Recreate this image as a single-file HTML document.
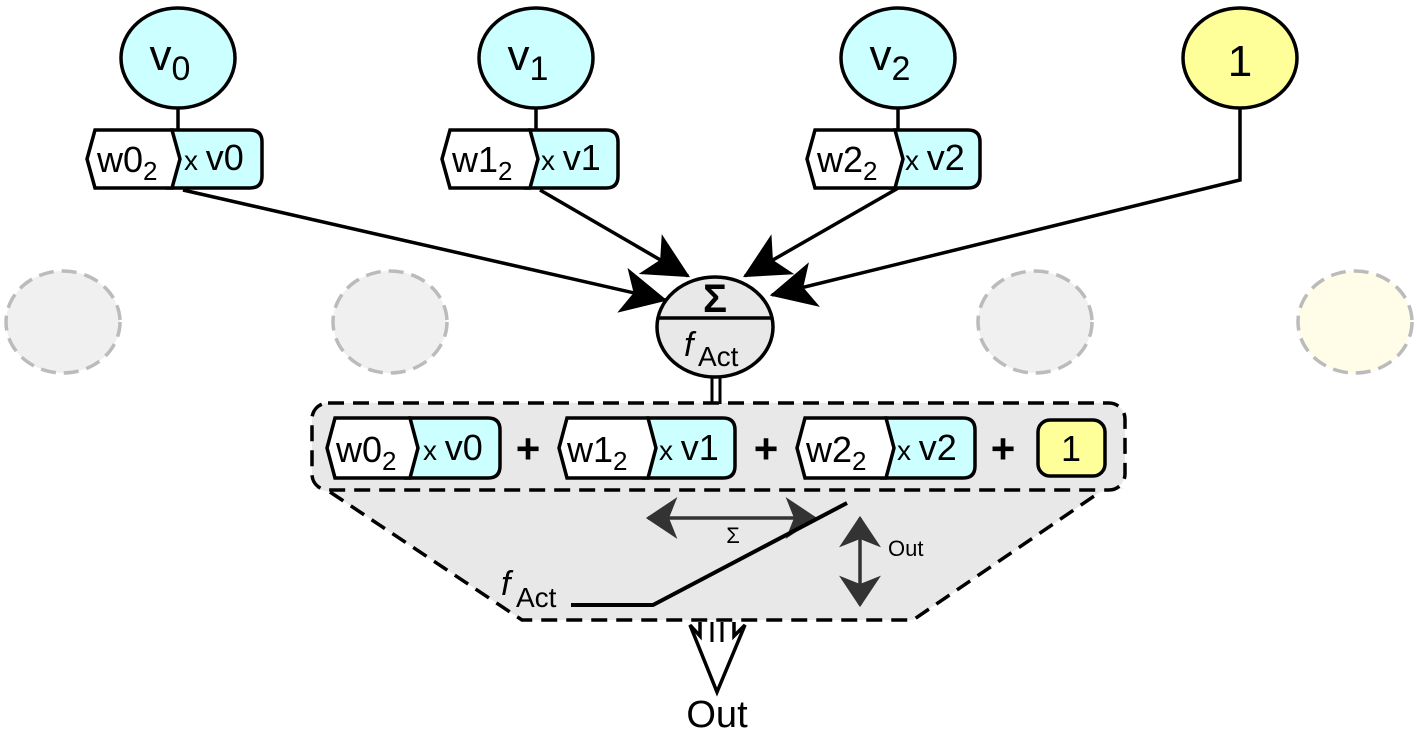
<!DOCTYPE html>
<html><head><meta charset="utf-8"><style>body{margin:0;background:#fff}svg{display:block}text{font-family:"Liberation Sans",sans-serif}</style></head><body>
<svg width="1417" height="732" viewBox="0 0 1417 732" xmlns="http://www.w3.org/2000/svg">
<defs>
<marker id="big" viewBox="0 0 40 40" refX="38" refY="20" markerWidth="46" markerHeight="46" markerUnits="userSpaceOnUse" orient="auto"><path d="M0,0 L40,20 L0,40 L10,20Z" fill="#000"/></marker>
<marker id="dg" viewBox="0 0 30 40" refX="28" refY="20" markerWidth="32" markerHeight="42" markerUnits="userSpaceOnUse" orient="auto"><path d="M0,0 L30,20 L0,40 L8,20Z" fill="#333"/></marker>
<marker id="dgs" viewBox="0 0 30 40" refX="2" refY="20" markerWidth="32" markerHeight="42" markerUnits="userSpaceOnUse" orient="auto"><path d="M30,0 L0,20 L30,40 L22,20Z" fill="#333"/></marker>
</defs>
<g fill="#f0f0f0" stroke="#bbb" stroke-width="3.5" stroke-dasharray="15,8">
<ellipse cx="63" cy="322" rx="57" ry="51"/><ellipse cx="390" cy="322" rx="57" ry="51"/><ellipse cx="1035" cy="322" rx="57" ry="51"/><ellipse cx="1355" cy="322" rx="57" ry="51" fill="#fffde8"/>
</g>
<g stroke="#000" stroke-width="3.5">
<line x1="178" y1="108" x2="178" y2="130"/><line x1="536" y1="108" x2="536" y2="130"/><line x1="898" y1="108" x2="898" y2="130"/>
<ellipse cx="178" cy="58" rx="57" ry="50" fill="#ccffff"/><ellipse cx="536" cy="58" rx="57" ry="50" fill="#ccffff"/><ellipse cx="898" cy="58" rx="57" ry="50" fill="#ccffff"/><ellipse cx="1240" cy="58" rx="57" ry="50" fill="#ffff99"/>
</g>
<g font-size="44" text-anchor="middle"><text x="170" y="70">v<tspan font-size="34" dy="10">0</tspan></text><text x="528" y="70">v<tspan font-size="34" dy="10">1</tspan></text><text x="890" y="70">v<tspan font-size="34" dy="10">2</tspan></text><text x="1240" y="76">1</text></g>
<g stroke="#000" stroke-width="3.5" fill="none">
<line x1="183" y1="190" x2="665" y2="300" marker-end="url(#big)"/>
<line x1="540" y1="190" x2="688" y2="276" marker-end="url(#big)"/>
<line x1="900" y1="187" x2="745" y2="276" marker-end="url(#big)"/>
<polyline points="1240,108 1240,180 772,295" marker-end="url(#big)"/>
</g>
<g stroke="#000" stroke-width="3.5">
<path d="M172,130 L250,130 Q262,130 262,142 L262,176 Q262,188 250,188 L168,188 L176,159Z" fill="#ccffff"/>
<path d="M95,130 L172,130 L180,159 L172,188 L95,188 L87,159Z" fill="#fff"/>
<path d="M530,130 L606,130 Q618,130 618,142 L618,176 Q618,188 606,188 L526,188 L534,159Z" fill="#ccffff"/>
<path d="M450,130 L530,130 L538,159 L530,188 L450,188 L442,159Z" fill="#fff"/>
<path d="M895,130 L968,130 Q980,130 980,142 L980,176 Q980,188 968,188 L891,188 L899,159Z" fill="#ccffff"/>
<path d="M815,130 L895,130 L903,159 L895,188 L815,188 L807,159Z" fill="#fff"/>
</g>
<g font-size="36"><text x="97" y="172">w<tspan>0</tspan><tspan font-size="26" dy="8">2</tspan></text><text x="184" y="170" font-size="28">x <tspan font-size="36">v0</tspan></text>
<text x="452" y="172">w<tspan>1</tspan><tspan font-size="26" dy="8">2</tspan></text><text x="541" y="170" font-size="28">x <tspan font-size="36">v1</tspan></text>
<text x="817" y="172">w<tspan>2</tspan><tspan font-size="26" dy="8">2</tspan></text><text x="905" y="170" font-size="28">x <tspan font-size="36">v2</tspan></text></g>
<path d="M312,488 L1125,488 L1100,492 L913,620 L522,620 L330,492Z" fill="#e8e8e8"/>
<path d="M330,492 L522,620 L913,620 L1100,492" fill="none" stroke="#000" stroke-width="3.5" stroke-dasharray="16,9"/>
<rect x="312" y="403" width="813" height="87" rx="16" fill="#e8e8e8" stroke="#000" stroke-width="3.5" stroke-dasharray="16,9"/>
<line x1="712" y1="376" x2="712" y2="404" stroke="#000" stroke-width="3"/><line x1="720" y1="376" x2="720" y2="404" stroke="#000" stroke-width="3"/>
<ellipse cx="715" cy="327" rx="58" ry="50" fill="#e8e8e8" stroke="#000" stroke-width="3.5"/>
<line x1="657" y1="318" x2="773" y2="318" stroke="#000" stroke-width="3.5"/>
<text x="715" y="312" font-size="40" font-weight="bold" text-anchor="middle">Σ</text>
<text x="684" y="356" font-size="34" font-style="italic" font-family="Liberation Serif">f</text><text x="698" y="366" font-size="28">Act</text>
<g stroke="#000" stroke-width="3.5">
<path d="M410,418 L488,418 Q500,418 500,430 L500,466 Q500,478 488,478 L406,478 L414,448Z" fill="#ccffff"/>
<path d="M335,418 L410,418 L418,448 L410,478 L335,478 L327,448Z" fill="#fff"/>
<path d="M648,418 L723,418 Q735,418 735,430 L735,466 Q735,478 723,478 L644,478 L652,448Z" fill="#ccffff"/>
<path d="M567,418 L648,418 L656,448 L648,478 L567,478 L559,448Z" fill="#fff"/>
<path d="M886,418 L963,418 Q975,418 975,430 L975,466 Q975,478 963,478 L882,478 L890,448Z" fill="#ccffff"/>
<path d="M805,418 L886,418 L894,448 L886,478 L805,478 L797,448Z" fill="#fff"/>
<rect x="1038" y="420" width="67" height="56" rx="12" fill="#ffff99"/>
</g>
<g font-size="36"><text x="336" y="462">w<tspan>0</tspan><tspan font-size="26" dy="8">2</tspan></text><text x="423" y="460" font-size="28">x <tspan font-size="36">v0</tspan></text>
<text x="567" y="462">w<tspan>1</tspan><tspan font-size="26" dy="8">2</tspan></text><text x="659" y="460" font-size="28">x <tspan font-size="36">v1</tspan></text>
<text x="806" y="462">w<tspan>2</tspan><tspan font-size="26" dy="8">2</tspan></text><text x="897" y="460" font-size="28">x <tspan font-size="36">v2</tspan></text>
<text x="1071" y="461" text-anchor="middle">1</text></g>
<g font-size="42" font-weight="bold" text-anchor="middle"><text x="528" y="463">+</text><text x="766" y="463">+</text><text x="1003" y="463">+</text></g>
<line x1="648" y1="518" x2="815" y2="518" stroke="#333" stroke-width="3.5" marker-end="url(#dg)" marker-start="url(#dgs)"/>
<line x1="860" y1="518" x2="860" y2="605" stroke="#333" stroke-width="3.5" marker-end="url(#dg)" marker-start="url(#dgs)"/>
<polyline points="571,605 653,605 847,503" fill="none" stroke="#000" stroke-width="4"/>
<text x="733" y="543" font-size="22" text-anchor="middle">Σ</text>
<text x="888" y="556" font-size="22">Out</text>
<text x="501" y="595" font-size="34" font-style="italic" font-family="Liberation Serif">f</text><text x="516" y="607" font-size="28">Act</text>
<path d="M700,622 L700,636 L690,625 L717,692 L745,625 L734,636 L734,622" fill="#fff" stroke="#000" stroke-width="3.5"/>
<line x1="712" y1="622" x2="712" y2="642" stroke="#000" stroke-width="3"/><line x1="722" y1="622" x2="722" y2="642" stroke="#000" stroke-width="3"/>
<text x="717" y="727" font-size="38" text-anchor="middle">Out</text>
</svg>
</body></html>
